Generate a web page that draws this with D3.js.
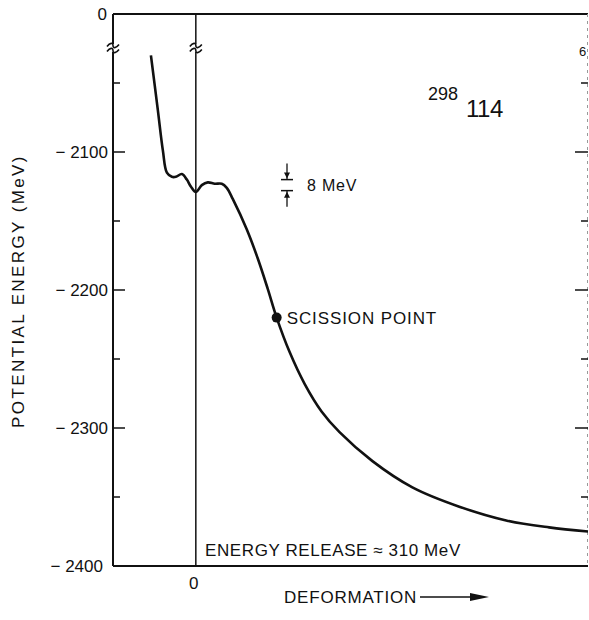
<!DOCTYPE html>
<html>
<head>
<meta charset="utf-8">
<script src="https://cdn.jsdelivr.net/npm/d3@7"></script>
<style>
  body { margin: 0; background: #fff; }
  text { font-family: "Liberation Sans", Arial, sans-serif; fill: #111; }
</style>
</head>
<body>
<div id="chart"></div>
<script>
// curve: deformation (arbitrary units) vs potential energy (MeV)
const deformation = [-0.45, -0.38, -0.33, -0.29, -0.24, -0.20, -0.14, -0.09, -0.05, 0.00,
  0.06, 0.12, 0.19, 0.26, 0.31, 0.37, 0.51, 0.62, 0.72, 0.81,
  0.94, 1.09, 1.26, 1.44, 1.77, 2.17, 2.64, 3.11, 3.54, 3.93];
const energy = [-2030, -2070, -2099, -2115, -2118, -2118, -2116, -2120, -2125, -2129,
  -2124, -2122, -2123, -2123, -2126, -2134, -2156, -2177, -2199, -2220,
  -2245, -2268, -2288, -2303, -2324, -2343, -2357, -2367, -2372, -2375];
const scission = {d: 0.81, e: -2220};
const yMajor = [-2100, -2200, -2300];
const yMinor = [-2050, -2150, -2250, -2350];
const yLabels = ["− 2100", "− 2200", "− 2300"];
const gapMeV = [-2120, -2128];   // the 8 MeV scale bar

const width = 589, height = 620;
const margin = {top: 14, bottom: 54, left: 113, right: 1};

const svg = d3.select("#chart").append("svg")
  .attr("width", width)
  .attr("height", height);

const x = d3.scaleLinear()
  .domain([-0.83, 3.93])
  .range([margin.left, width - margin.right]);

// top of the frame is the broken "0" line, drawn at -2000
const y = d3.scaleLinear()
  .domain([-2400, -2000])
  .range([height - margin.bottom, margin.top]);

const x0 = margin.left, x1 = width - margin.right;
const yTop = y(-2000), yBot = y(-2400);
const yBreak = 48;

// frame
svg.append("line").attr("x1", x0).attr("x2", x1).attr("y1", yTop).attr("y2", yTop)
  .attr("stroke", "#111").attr("stroke-width", 2);
svg.append("line").attr("x1", x0).attr("x2", x1).attr("y1", yBot).attr("y2", yBot)
  .attr("stroke", "#111").attr("stroke-width", 2);
svg.append("line").attr("x1", x0).attr("x2", x0).attr("y1", yTop).attr("y2", yBot)
  .attr("stroke", "#111").attr("stroke-width", 2);
svg.append("line").attr("x1", x1 - 0.5).attr("x2", x1 - 0.5).attr("y1", yTop).attr("y2", yBot)
  .attr("stroke", "#999").attr("stroke-width", 1).attr("stroke-dasharray", "3,4");

// vertical line at zero deformation
svg.append("line").attr("x1", x(0)).attr("x2", x(0)).attr("y1", yTop).attr("y2", yBot)
  .attr("stroke", "#111").attr("stroke-width", 1.5);

// axis break marks
function breakMark(cx) {
  const g = svg.append("g").attr("transform", `translate(${cx},${yBreak})`);
  g.append("rect").attr("x", -6).attr("y", -4).attr("width", 12).attr("height", 8).attr("fill", "#fff");
  [-2.5, 2.5].forEach(dy => {
    g.append("path")
      .attr("d", `M-6,${dy + 1} C-3,${dy - 3} 0,${dy - 3} 0,${dy} S3,${dy + 3} 6,${dy - 1}`)
      .attr("fill", "none").attr("stroke", "#111").attr("stroke-width", 1.6);
  });
}
breakMark(x0);
breakMark(x(0));

// ticks, left pointing in, right pointing in
yMajor.forEach(v => {
  svg.append("line").attr("x1", x0).attr("x2", x0 + 12).attr("y1", y(v)).attr("y2", y(v))
    .attr("stroke", "#111").attr("stroke-width", 1.5);
  svg.append("line").attr("x1", x1 - 13).attr("x2", x1).attr("y1", y(v)).attr("y2", y(v))
    .attr("stroke", "#111").attr("stroke-width", 1.5);
});
yMinor.forEach(v => {
  svg.append("line").attr("x1", x0).attr("x2", x0 + 7).attr("y1", y(v)).attr("y2", y(v))
    .attr("stroke", "#111").attr("stroke-width", 1.5);
  svg.append("line").attr("x1", x1 - 7).attr("x2", x1).attr("y1", y(v)).attr("y2", y(v))
    .attr("stroke", "#111").attr("stroke-width", 1.5);
});

// tick labels
yMajor.forEach((v, i) => {
  svg.append("text").attr("x", x0 - 5).attr("y", y(v)).attr("dy", "0.35em")
    .attr("text-anchor", "end").style("font-size", "17px").text(yLabels[i]);
});
svg.append("text").attr("x", x0 - 10).attr("y", yBot).attr("dy", "0.35em")
  .attr("text-anchor", "end").style("font-size", "17px").text("− 2400");
svg.append("text").attr("x", x0 - 6).attr("y", yTop).attr("dy", "0.35em")
  .attr("text-anchor", "end").style("font-size", "17px").text("0");
svg.append("text").attr("x", x(0) - 2).attr("y", yBot + 23)
  .attr("text-anchor", "middle").style("font-size", "17px").text("0");

// cut-off label of the next panel on the right edge
svg.append("text").attr("x", x1 - 9).attr("y", yBreak + 8)
  .style("font-size", "13px").text("6");

// axis titles
svg.append("text")
  .attr("transform", "rotate(-90)")
  .attr("x", -291).attr("y", 24)
  .attr("text-anchor", "middle")
  .style("font-size", "17px")
  .style("letter-spacing", "2.4px")
  .text("POTENTIAL ENERGY (MeV)");

svg.append("text").attr("x", 284).attr("y", 603)
  .style("font-size", "17px").style("letter-spacing", "0.8px").text("DEFORMATION");
svg.append("line").attr("x1", 420).attr("x2", 472).attr("y1", 597).attr("y2", 597)
  .attr("stroke", "#111").attr("stroke-width", 1.5);
svg.append("path").attr("d", "M470,593 L489,597 L470,601 Z").attr("fill", "#111");

// potential energy curve
const pts = deformation.map((d, i) => [d, energy[i]]);
const line = d3.line()
  .x(d => x(d[0]))
  .y(d => y(d[1]))
  .curve(d3.curveCatmullRom.alpha(0.5));

svg.append("path")
  .datum(pts)
  .attr("d", line)
  .attr("fill", "none")
  .attr("stroke", "#111")
  .attr("stroke-width", 2.6)
  .attr("stroke-linejoin", "round");

// scission point
svg.append("circle").attr("cx", x(scission.d)).attr("cy", y(scission.e)).attr("r", 5).attr("fill", "#111");
svg.append("text").attr("x", x(scission.d) + 10).attr("y", y(scission.e)).attr("dy", "0.36em")
  .style("font-size", "17px").style("letter-spacing", "0.9px").text("SCISSION POINT");

// 8 MeV scale bar
const bx = 287;
const gy1 = y(gapMeV[0]), gy2 = y(gapMeV[1]);
svg.append("line").attr("x1", bx - 6).attr("x2", bx + 6).attr("y1", gy1).attr("y2", gy1)
  .attr("stroke", "#111").attr("stroke-width", 1.5);
svg.append("line").attr("x1", bx - 6).attr("x2", bx + 6).attr("y1", gy2).attr("y2", gy2)
  .attr("stroke", "#111").attr("stroke-width", 1.5);
svg.append("line").attr("x1", bx).attr("x2", bx).attr("y1", gy1 - 16).attr("y2", gy1)
  .attr("stroke", "#111").attr("stroke-width", 1.3);
svg.append("path").attr("d", `M${bx - 3},${gy1 - 7} L${bx + 3},${gy1 - 7} L${bx},${gy1 - 1} Z`).attr("fill", "#111");
svg.append("line").attr("x1", bx).attr("x2", bx).attr("y1", gy2).attr("y2", gy2 + 16)
  .attr("stroke", "#111").attr("stroke-width", 1.3);
svg.append("path").attr("d", `M${bx - 3},${gy2 + 7} L${bx + 3},${gy2 + 7} L${bx},${gy2 + 1} Z`).attr("fill", "#111");
svg.append("text").attr("x", bx + 20).attr("y", (gy1 + gy2) / 2).attr("dy", "0.36em")
  .style("font-size", "16px").style("letter-spacing", "0.8px").text("8 MeV");

// nucleus label
svg.append("text").attr("x", 428).attr("y", 100).style("font-size", "18px").text("298");
svg.append("text").attr("x", 466).attr("y", 117).style("font-size", "24px")
  .style("letter-spacing", "-0.5px").text("114");

// energy release note
svg.append("text").attr("x", 205).attr("y", 556)
  .style("font-size", "17px").style("letter-spacing", "0.6px").text("ENERGY RELEASE ≈ 310 MeV");
</script>
</body>
</html>
